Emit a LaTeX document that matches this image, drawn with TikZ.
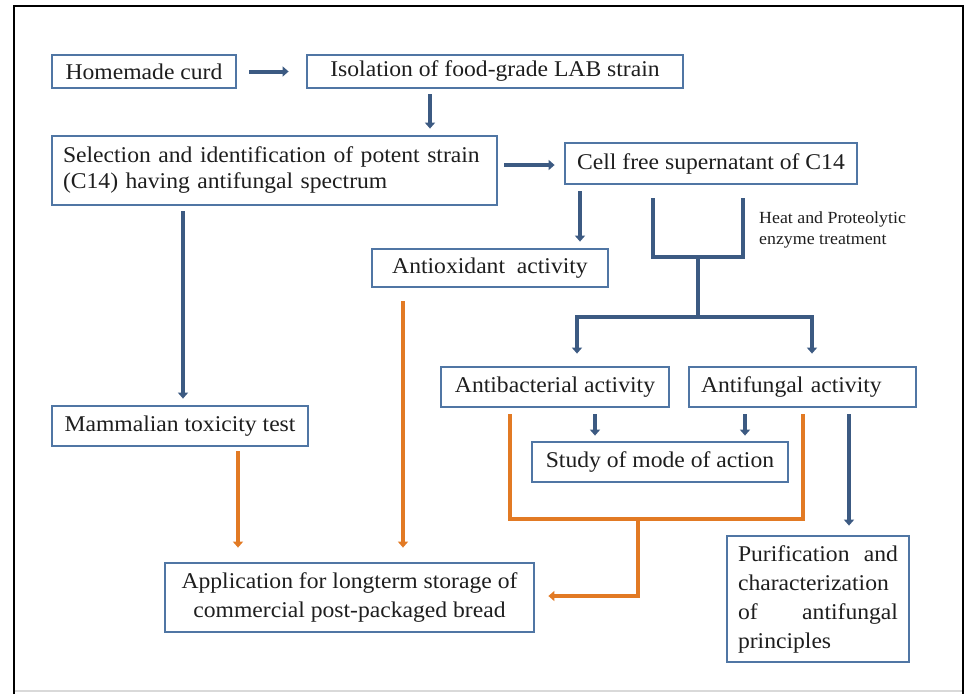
\documentclass[tikz,border=0pt]{standalone}
\usepackage{fontspec}
\setmainfont{Liberation Serif}[FakeStretch=1.05]
\usetikzlibrary{arrows.meta}
\definecolor{boxblue}{RGB}{80,118,164}
\definecolor{arrblue}{RGB}{60,90,130}
\definecolor{arrorange}{RGB}{226,122,36}
\definecolor{txtgray}{RGB}{30,30,30}

\begin{document}
\begin{tikzpicture}[x=1pt,y=-1pt,
  box/.style={draw=boxblue,line width=2.8pt,fill=white,inner sep=0pt,text=txtgray,font=\fontsize{22.5}{26}\selectfont},
  bline/.style={draw=arrblue,line width=3.4pt},
  barrow/.style={draw=arrblue,line width=4pt,-{Triangle[length=6pt,width=10pt]}},
  oline/.style={draw=arrorange,line width=3.4pt},
  oarrow/.style={oline,-{Triangle[length=6pt,width=10pt]}}]
\useasboundingbox (0,0) rectangle (965,694);
\draw[gray!30,line width=1.5pt] (14,691) -- (963,691);
\draw[line width=2.2pt] (14,694) -- (14,6) -- (963,6) -- (963,694);

\node[box,minimum width=184pt,minimum height=33pt] (HC) at (144,71.5) {Homemade curd};
\node[box,minimum width=376pt,minimum height=33pt] (IS) at (495,71.5) {Isolation of food-grade LAB strain};
\node[box,minimum height=69pt,inner xsep=11pt,text width=423pt,align=left] (SI) at (274.5,170.5)
  {Selection and identification of potent strain\\(C14) having antifungal spectrum};
\node[box,minimum width=292pt,minimum height=41pt] (CF) at (711,163.5) {Cell free supernatant of C14};
\node[box,minimum width=236pt,minimum height=38pt] (AO) at (490,268) {Antioxidant\ \ activity};
\node[anchor=west,align=left,inner sep=3pt,text=txtgray,font=\fontsize{17}{21}\selectfont] (HP) at (756,229.5)
  {Heat and Proteolytic\\enzyme treatment};
\node[box,minimum width=228pt,minimum height=40pt] (AB) at (555,387) {Antibacterial activity};
\node[box,minimum height=40pt,inner xsep=12pt,text width=203pt,align=left] (AF) at (802.5,387) {Antifungal activity};
\node[box,minimum width=256pt,minimum height=40pt] (SM) at (660,462) {Study of mode of action};
\node[box,minimum height=126pt,inner xsep=11pt,text width=160pt,align=left,font=\fontsize{22.5}{29}\selectfont] (PC) at (818,599)
  {Purification\hfill and\\characterization\\of\hfill antifungal\\principles};
\node[box,minimum width=256pt,minimum height=40pt] (MT) at (180,426) {Mammalian toxicity test};
\node[box,minimum width=369pt,minimum height=69pt,align=center,font=\fontsize{22.5}{29}\selectfont] (AP) at (349.5,597.5)
  {Application for longterm storage of\\commercial post-packaged bread};

\coordinate (J1) at (698,257);
\coordinate (J2) at (698,317);
\coordinate (K1) at (638,519);
\coordinate (K2) at (638,596);

\draw[barrow,shorten <=12pt,shorten >=17pt] (HC) -- (IS);
\draw[barrow,shorten <=5pt,shorten >=6pt] (IS.south -| 430,0) -- (SI.north -| 430,0);
\draw[barrow,shorten <=6pt,shorten >=9pt] (SI.east |- 0,165) -- (CF.west |- 0,165);
\draw[barrow,shorten <=5pt,shorten >=6pt] (SI.south -| 183,0) -- (MT.north -| 183,0);
\draw[barrow,shorten <=6pt,shorten >=6pt] (CF.south -| 580,0) -- (AO.north -| 580,0);
\draw[bline] ([yshift=-13pt]CF.south -| 653,0) |- (J1) -| ([yshift=-13pt]CF.south -| 743,0);
\draw[bline] (J1) -- (J2);
\draw[barrow] (J2) -| ([yshift=12pt]AB.north -| 577,0);
\draw[barrow] (J2) -| ([yshift=12pt]AF.north -| 812,0);
\draw[barrow,shorten <=6pt,shorten >=5pt] (AB.south -| 595,0) -- (SM.north -| 595,0);
\draw[barrow,shorten <=6pt,shorten >=5pt] (AF.south -| 745,0) -- (SM.north -| 745,0);
\draw[barrow,shorten <=6pt,shorten >=9pt] (AF.south -| 849,0) -- (PC.north -| 849,0);

\draw[oline] ([yshift=-6pt]AB.south -| 510,0) |- (K1) -| ([yshift=-6pt]AF.south -| 803,0);
\draw[oarrow] (K1) -- (K2) -- ([xshift=13pt]AP.east |- K2);
\draw[oarrow,shorten <=4pt,shorten >=14pt] (MT.south -| 238,0) -- (AP.north -| 238,0);
\draw[oarrow,shorten <=13pt,shorten >=14pt] (AO.south -| 403,0) -- (AP.north -| 403,0);
\end{tikzpicture}
\end{document}
